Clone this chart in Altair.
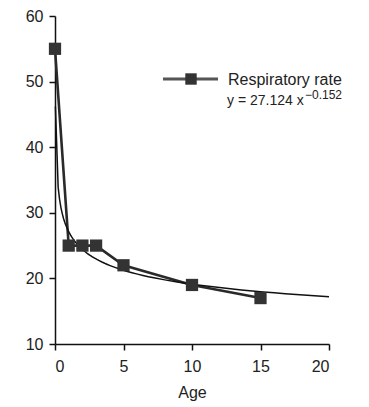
import altair as alt
import pandas as pd

age = [0, 1, 2, 3, 5, 10, 15]
rate = [55, 25, 25, 25, 22, 19, 17]
x_ticks = [0, 5, 10, 15, 20]
y_ticks = [10, 20, 30, 40, 50, 60]
series_label = "Respiratory rate"
equation_main = "y = 27.124 x"
equation_exp = "\u22120.152"

df = pd.DataFrame({"age": age, "rate": rate})
FONT = "Liberation Sans"

xs = alt.Scale(domain=[0, 20], nice=False)
ys = alt.Scale(domain=[10, 60], nice=False)
xax = alt.Axis(values=x_ticks, title="Age", grid=False)
yax = alt.Axis(values=y_ticks, title=None, grid=False)

base = alt.Chart(df)

data_line = base.mark_line(color="#2a2a2a", strokeWidth=2.6).encode(
    x=alt.X("age:Q", scale=xs, axis=xax),
    y=alt.Y("rate:Q", scale=ys, axis=yax),
)
points = base.mark_square(size=150, color="#333333", opacity=1).encode(
    x=alt.X("age:Q", scale=xs), y=alt.Y("rate:Q", scale=ys)
)
fit = (
    base.transform_filter("datum.age > 0")
    .transform_regression("age", "rate", method="pow", extent=[0.03, 20])
    .mark_line(color="#111111", strokeWidth=1.5)
    .encode(x=alt.X("age:Q", scale=xs), y=alt.Y("rate:Q", scale=ys))
)

one = alt.Data(values=[{}])
leg_line = alt.Chart(one).mark_rule(color="#555555", strokeWidth=3).encode(
    x=alt.value(108), x2=alt.value(163), y=alt.value(63)
)
leg_sq = alt.Chart(one).mark_square(size=130, color="#333333", opacity=1).encode(
    x=alt.value(136), y=alt.value(63)
)
leg_t1 = alt.Chart(one).mark_text(
    text=series_label, align="left", baseline="middle", font=FONT, fontSize=16, color="#222"
).encode(x=alt.value(173), y=alt.value(64))
leg_t2 = alt.Chart(one).mark_text(
    text=equation_main, align="left", baseline="middle", font=FONT, fontSize=14, color="#222"
).encode(x=alt.value(172), y=alt.value(85))
leg_t3 = alt.Chart(one).mark_text(
    text=equation_exp, align="left", baseline="middle", font=FONT, fontSize=12, color="#222"
).encode(x=alt.value(250), y=alt.value(79))

chart = (
    alt.layer(data_line, fit, points, leg_line, leg_sq, leg_t1, leg_t2, leg_t3)
    .properties(
        width=274,
        height=328,
        autosize=alt.AutoSizeParams(type="none"),
        padding={"left": 47, "top": 8, "right": 30, "bottom": 62},
    )
    .configure_view(stroke=None)
    .configure_axis(
        labelFont=FONT,
        labelFontSize=16,
        labelColor="#222",
        titleFont=FONT,
        titleFontSize=16,
        titleFontWeight="normal",
        titleColor="#222",
        domainColor="#111",
        domainWidth=1.5,
        tickColor="#111",
        tickWidth=1.5,
        tickSize=6,
        labelPadding=6,
        titlePadding=10,
    )
    .configure_axisX(labelPadding=8)
)

chart.save("out.html", embed_options={"renderer": "svg", "actions": False})
